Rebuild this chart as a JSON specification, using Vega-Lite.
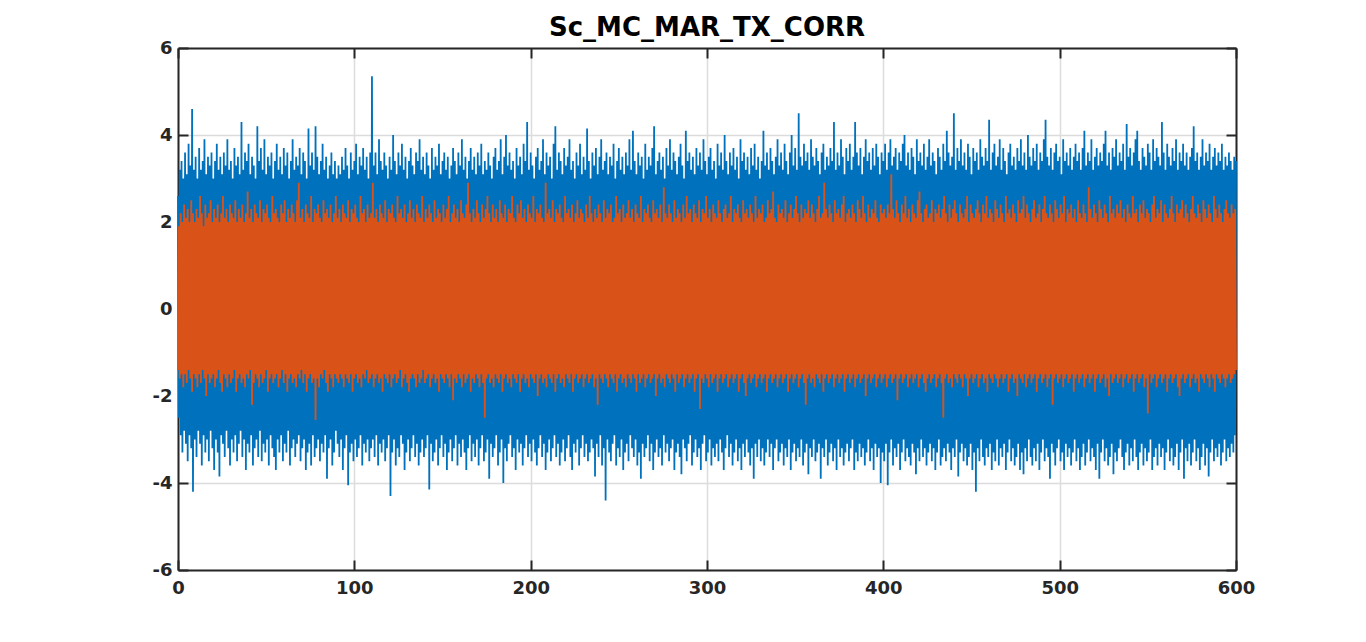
{
"$schema":"https://vega.github.io/schema/vega-lite/v6.json",
"width":1058,"height":522,
"autosize":"none",
"padding":{"left":178,"top":48,"right":130,"bottom":72},
"background":"white",
"title":{"text":"Sc_MC_MAR_TX_CORR","font":"DejaVu Sans","fontSize":26,"fontWeight":"bold","color":"#000000","anchor":"middle","offset":-2},
"config":{
 "view":{"stroke":null},
 "axis":{"domainColor":"#262626","domainWidth":2,"tickColor":"#262626","tickWidth":2,"tickSize":-10,"labelPadding":16,"labelFont":"DejaVu Sans","labelFontWeight":"bold","labelFontSize":18,"labelColor":"#262626","gridColor":"#dcdcdc","gridWidth":1.5,"labelFlush":false,"labelOverlap":false,"labelExpr":"'' + datum.value"}
},
"data":{"values":[
{"x":0,"b":2.6,"o":-1.4},{"x":0.5,"b":-2.5,"o":1.9},{"x":1,"b":3.2,"o":-1.6},{"x":1.5,"b":-2.9,"o":2.2},{"x":2,"b":3.4,"o":-1.5},{"x":2.5,"b":-3.3,"o":2.0},{"x":3,"b":3.0,"o":-1.8},{"x":3.5,"b":-2.8,"o":2.4},{"x":4,"b":3.6,"o":-1.5},{"x":4.5,"b":-3.1,"o":2.1},
{"x":5,"b":3.1,"o":-1.7},{"x":5.5,"b":-3.5,"o":2.3},{"x":6,"b":3.8,"o":-1.4},{"x":6.5,"b":-2.9,"o":2.0},{"x":7,"b":3.3,"o":-1.6},{"x":7.5,"b":-3.2,"o":2.5},{"x":8,"b":4.6,"o":-1.9},{"x":8.5,"b":-4.2,"o":2.2},{"x":9,"b":3.2,"o":-1.5},{"x":9.5,"b":-3.0,"o":2.0},
{"x":10,"b":3.5,"o":-1.6},{"x":10.5,"b":-3.4,"o":2.3},{"x":11,"b":3.0,"o":-1.8},{"x":11.5,"b":-2.8,"o":2.1},{"x":12,"b":3.7,"o":-1.5},{"x":12.5,"b":-3.1,"o":2.6},{"x":13,"b":3.2,"o":-1.7},{"x":13.5,"b":-3.6,"o":2.2},{"x":14,"b":3.4,"o":-1.4},{"x":14.5,"b":-2.9,"o":1.9},
{"x":15,"b":3.9,"o":-1.6},{"x":15.5,"b":-3.3,"o":2.4},{"x":16,"b":3.1,"o":-2.0},{"x":16.5,"b":-3.0,"o":2.1},{"x":17,"b":3.5,"o":-1.5},{"x":17.5,"b":-3.5,"o":2.2},{"x":18,"b":3.3,"o":-1.7},{"x":18.5,"b":-2.8,"o":2.5},{"x":19,"b":3.6,"o":-1.6},{"x":19.5,"b":-3.2,"o":2.0},
{"x":20,"b":3.0,"o":-1.5},{"x":20.5,"b":-3.7,"o":2.3},{"x":21,"b":3.4,"o":-1.8},{"x":21.5,"b":-3.0,"o":2.1},{"x":22,"b":3.8,"o":-1.6},{"x":22.5,"b":-3.3,"o":2.4},{"x":23,"b":3.2,"o":-1.4},{"x":23.5,"b":-3.85,"o":2.0},{"x":24,"b":3.5,"o":-1.7},{"x":24.5,"b":-2.9,"o":2.2},
{"x":25,"b":3.1,"o":-1.9},{"x":25.5,"b":-3.1,"o":2.6},{"x":26,"b":3.6,"o":-1.5},{"x":26.5,"b":-3.4,"o":2.1},{"x":27,"b":3.3,"o":-1.6},{"x":27.5,"b":-2.8,"o":2.3},{"x":28,"b":3.9,"o":-1.8},{"x":28.5,"b":-3.2,"o":2.0},{"x":29,"b":3.2,"o":-1.5},{"x":29.5,"b":-3.6,"o":2.4},
{"x":30,"b":3.4,"o":-1.7},{"x":30.5,"b":-3.0,"o":2.2},{"x":31,"b":3.0,"o":-1.6},{"x":31.5,"b":-3.3,"o":2.1},{"x":32,"b":3.7,"o":-1.4},{"x":32.5,"b":-2.9,"o":2.5},{"x":33,"b":3.3,"o":-1.9},{"x":33.5,"b":-3.5,"o":2.0},{"x":34,"b":3.5,"o":-1.6},{"x":34.5,"b":-3.1,"o":2.3},
{"x":35,"b":3.1,"o":-1.5},{"x":35.5,"b":-2.8,"o":2.1},{"x":36,"b":4.3,"o":-1.7},{"x":36.5,"b":-3.4,"o":2.4},{"x":37,"b":3.2,"o":-1.6},{"x":37.5,"b":-3.0,"o":2.0},{"x":38,"b":3.6,"o":-1.8},{"x":38.5,"b":-3.7,"o":2.2},{"x":39,"b":3.4,"o":-1.5},{"x":39.5,"b":-3.1,"o":2.7},
{"x":40,"b":3.8,"o":-1.6},{"x":40.5,"b":-3.3,"o":2.1},{"x":41,"b":3.1,"o":-1.4},{"x":41.5,"b":-2.9,"o":2.3},{"x":42,"b":3.5,"o":-2.2},{"x":42.5,"b":-3.6,"o":2.0},{"x":43,"b":3.3,"o":-1.7},{"x":43.5,"b":-3.2,"o":2.4},{"x":44,"b":3.0,"o":-1.5},{"x":44.5,"b":-3.0,"o":2.2},
{"x":45,"b":4.2,"o":-1.6},{"x":45.5,"b":-3.4,"o":2.1},{"x":46,"b":3.4,"o":-1.8},{"x":46.5,"b":-2.8,"o":2.5},{"x":47,"b":3.7,"o":-1.5},{"x":47.5,"b":-3.5,"o":2.0},{"x":48,"b":3.2,"o":-1.7},{"x":48.5,"b":-3.1,"o":2.3},{"x":49,"b":3.9,"o":-1.6},{"x":49.5,"b":-3.3,"o":2.2},
{"x":50,"b":3.1,"o":-1.4},{"x":50.5,"b":-3.0,"o":2.4},{"x":51,"b":3.5,"o":-1.9},{"x":51.5,"b":-3.6,"o":2.1},{"x":52,"b":3.3,"o":-1.6},{"x":52.5,"b":-2.9,"o":2.0},{"x":53,"b":3.6,"o":-1.5},{"x":53.5,"b":-3.2,"o":2.6},{"x":54,"b":3.0,"o":-1.7},{"x":54.5,"b":-3.4,"o":2.2},
{"x":55,"b":3.4,"o":-1.6},{"x":55.5,"b":-3.7,"o":2.3},{"x":56,"b":3.8,"o":-1.5},{"x":56.5,"b":-3.0,"o":2.1},{"x":57,"b":3.2,"o":-1.8},{"x":57.5,"b":-3.3,"o":2.0},{"x":58,"b":3.5,"o":-1.6},{"x":58.5,"b":-2.9,"o":2.4},{"x":59,"b":3.1,"o":-1.4},{"x":59.5,"b":-3.5,"o":2.2},
{"x":60,"b":3.7,"o":-1.7},{"x":60.5,"b":-3.1,"o":2.5},{"x":61,"b":3.3,"o":-1.5},{"x":61.5,"b":-3.3,"o":2.0},{"x":62,"b":3.6,"o":-1.9},{"x":62.5,"b":-2.8,"o":2.3},{"x":63,"b":3.0,"o":-1.6},{"x":63.5,"b":-3.6,"o":2.1},{"x":64,"b":3.4,"o":-1.5},{"x":64.5,"b":-3.2,"o":2.4},
{"x":65,"b":3.9,"o":-1.7},{"x":65.5,"b":-3.0,"o":2.2},{"x":66,"b":3.2,"o":-1.6},{"x":66.5,"b":-3.4,"o":2.0},{"x":67,"b":3.5,"o":-1.8},{"x":67.5,"b":-3.1,"o":2.5},{"x":68,"b":3.3,"o":-1.5},{"x":68.5,"b":-2.9,"o":2.9},{"x":69,"b":3.7,"o":-1.6},{"x":69.5,"b":-3.5,"o":2.1},
{"x":70,"b":3.1,"o":-1.4},{"x":70.5,"b":-3.2,"o":2.3},{"x":71,"b":3.6,"o":-1.7},{"x":71.5,"b":-3.0,"o":2.0},{"x":72,"b":3.4,"o":-1.5},{"x":72.5,"b":-3.7,"o":2.4},{"x":73,"b":3.0,"o":-1.9},{"x":73.5,"b":-3.3,"o":2.2},{"x":74,"b":4.15,"o":-1.6},{"x":74.5,"b":-3.1,"o":2.1},
{"x":75,"b":3.3,"o":-1.5},{"x":75.5,"b":-3.6,"o":2.6},{"x":76,"b":3.6,"o":-1.7},{"x":76.5,"b":-2.9,"o":2.0},{"x":77,"b":3.2,"o":-1.6},{"x":77.5,"b":-3.4,"o":2.3},{"x":78,"b":4.2,"o":-2.55},{"x":78.5,"b":-3.2,"o":2.2},{"x":79,"b":3.5,"o":-1.6},{"x":79.5,"b":-3.0,"o":2.4},
{"x":80,"b":3.1,"o":-1.8},{"x":80.5,"b":-3.5,"o":2.1},{"x":81,"b":3.4,"o":-1.5},{"x":81.5,"b":-3.1,"o":2.0},{"x":82,"b":3.8,"o":-1.6},{"x":82.5,"b":-3.3,"o":2.5},{"x":83,"b":3.2,"o":-1.4},{"x":83.5,"b":-2.9,"o":2.2},{"x":84,"b":3.5,"o":-1.7},{"x":84.5,"b":-3.9,"o":2.3},
{"x":85,"b":3.0,"o":-1.9},{"x":85.5,"b":-3.2,"o":2.1},{"x":86,"b":3.3,"o":-1.5},{"x":86.5,"b":-3.0,"o":2.4},{"x":87,"b":3.6,"o":-1.6},{"x":87.5,"b":-3.6,"o":2.0},{"x":88,"b":3.1,"o":-1.8},{"x":88.5,"b":-3.3,"o":2.2},{"x":89,"b":3.4,"o":-1.5},{"x":89.5,"b":-2.8,"o":2.6},
{"x":90,"b":3.0,"o":-1.6},{"x":90.5,"b":-3.1,"o":2.1},{"x":91,"b":3.3,"o":-1.7},{"x":91.5,"b":-3.4,"o":2.3},{"x":92,"b":3.1,"o":-1.5},{"x":92.5,"b":-3.0,"o":2.0},{"x":93,"b":3.5,"o":-1.6},{"x":93.5,"b":-3.7,"o":2.4},{"x":94,"b":3.2,"o":-1.8},{"x":94.5,"b":-3.2,"o":2.2},
{"x":95,"b":3.7,"o":-1.5},{"x":95.5,"b":-2.9,"o":2.1},{"x":96,"b":3.3,"o":-1.6},{"x":96.5,"b":-4.05,"o":2.5},{"x":97,"b":3.0,"o":-1.7},{"x":97.5,"b":-3.3,"o":2.0},{"x":98,"b":3.6,"o":-1.5},{"x":98.5,"b":-3.1,"o":2.3},{"x":99,"b":3.2,"o":-1.9},{"x":99.5,"b":-3.5,"o":2.2},
{"x":100,"b":3.4,"o":-1.6},{"x":100.5,"b":-3.0,"o":2.4},{"x":101,"b":3.8,"o":-1.5},{"x":101.5,"b":-3.4,"o":2.1},{"x":102,"b":3.1,"o":-1.7},{"x":102.5,"b":-3.2,"o":2.0},{"x":103,"b":3.5,"o":-1.6},{"x":103.5,"b":-2.9,"o":2.6},{"x":104,"b":3.3,"o":-1.8},{"x":104.5,"b":-3.6,"o":2.2},
{"x":105,"b":3.7,"o":-1.5},{"x":105.5,"b":-3.1,"o":2.3},{"x":106,"b":3.2,"o":-1.6},{"x":106.5,"b":-3.3,"o":2.0},{"x":107,"b":3.5,"o":-1.4},{"x":107.5,"b":-3.0,"o":2.4},{"x":108,"b":3.0,"o":-1.7},{"x":108.5,"b":-3.5,"o":2.1},{"x":109,"b":3.6,"o":-1.6},{"x":109.5,"b":-3.2,"o":2.2},
{"x":110,"b":5.35,"o":-1.5},{"x":110.5,"b":-3.0,"o":2.9},{"x":111,"b":3.3,"o":-1.8},{"x":111.5,"b":-3.4,"o":2.1},{"x":112,"b":3.6,"o":-1.6},{"x":112.5,"b":-2.9,"o":2.3},{"x":113,"b":3.1,"o":-1.5},{"x":113.5,"b":-3.6,"o":2.0},{"x":114,"b":3.9,"o":-1.7},{"x":114.5,"b":-3.1,"o":2.4},
{"x":115,"b":3.4,"o":-1.6},{"x":115.5,"b":-3.3,"o":2.2},{"x":116,"b":3.2,"o":-1.9},{"x":116.5,"b":-3.0,"o":2.1},{"x":117,"b":3.6,"o":-1.5},{"x":117.5,"b":-3.5,"o":2.5},{"x":118,"b":3.3,"o":-1.6},{"x":118.5,"b":-3.2,"o":2.0},{"x":119,"b":3.0,"o":-1.7},{"x":119.5,"b":-2.9,"o":2.3},
{"x":120,"b":3.5,"o":-1.5},{"x":120.5,"b":-4.3,"o":2.2},{"x":121,"b":3.2,"o":-1.8},{"x":121.5,"b":-3.3,"o":2.4},{"x":122,"b":4.0,"o":-1.6},{"x":122.5,"b":-3.0,"o":2.1},{"x":123,"b":3.4,"o":-1.5},{"x":123.5,"b":-3.6,"o":2.0},{"x":124,"b":3.1,"o":-1.7},{"x":124.5,"b":-3.2,"o":2.6},
{"x":125,"b":3.6,"o":-1.6},{"x":125.5,"b":-3.4,"o":2.2},{"x":126,"b":3.3,"o":-1.4},{"x":126.5,"b":-2.9,"o":2.3},{"x":127,"b":3.8,"o":-1.8},{"x":127.5,"b":-3.1,"o":2.1},{"x":128,"b":3.2,"o":-1.6},{"x":128.5,"b":-3.7,"o":2.4},{"x":129,"b":3.5,"o":-1.5},{"x":129.5,"b":-3.3,"o":2.0},
{"x":130,"b":3.0,"o":-1.7},{"x":130.5,"b":-3.0,"o":2.2},{"x":131,"b":3.4,"o":-1.9},{"x":131.5,"b":-3.5,"o":2.5},{"x":132,"b":3.7,"o":-1.6},{"x":132.5,"b":-3.2,"o":2.1},{"x":133,"b":3.3,"o":-1.5},{"x":133.5,"b":-2.9,"o":2.3},{"x":134,"b":3.1,"o":-1.6},{"x":134.5,"b":-3.4,"o":2.0},
{"x":135,"b":3.6,"o":-1.8},{"x":135.5,"b":-3.1,"o":2.4},{"x":136,"b":3.4,"o":-1.5},{"x":136.5,"b":-3.6,"o":2.2},{"x":137,"b":3.9,"o":-1.7},{"x":137.5,"b":-3.3,"o":2.1},{"x":138,"b":3.2,"o":-1.6},{"x":138.5,"b":-3.0,"o":2.6},{"x":139,"b":3.5,"o":-1.4},{"x":139.5,"b":-3.4,"o":2.0},
{"x":140,"b":3.1,"o":-1.7},{"x":140.5,"b":-3.2,"o":2.3},{"x":141,"b":3.6,"o":-1.6},{"x":141.5,"b":-2.9,"o":2.1},{"x":142,"b":3.3,"o":-1.5},{"x":142.5,"b":-4.15,"o":2.4},{"x":143,"b":3.0,"o":-1.8},{"x":143.5,"b":-3.1,"o":2.2},{"x":144,"b":3.7,"o":-1.6},{"x":144.5,"b":-3.5,"o":2.0},
{"x":145,"b":3.2,"o":-1.5},{"x":145.5,"b":-3.3,"o":2.5},{"x":146,"b":3.5,"o":-1.7},{"x":146.5,"b":-3.0,"o":2.1},{"x":147,"b":3.3,"o":-1.6},{"x":147.5,"b":-3.6,"o":2.3},{"x":148,"b":3.8,"o":-1.9},{"x":148.5,"b":-3.2,"o":2.2},{"x":149,"b":3.1,"o":-1.5},{"x":149.5,"b":-2.9,"o":2.0},
{"x":150,"b":3.4,"o":-1.6},{"x":150.5,"b":-3.4,"o":2.4},{"x":151,"b":3.6,"o":-1.7},{"x":151.5,"b":-3.1,"o":2.1},{"x":152,"b":3.2,"o":-1.5},{"x":152.5,"b":-3.7,"o":2.3},{"x":153,"b":3.5,"o":-1.6},{"x":153.5,"b":-3.3,"o":2.6},{"x":154,"b":3.0,"o":-1.8},{"x":154.5,"b":-3.0,"o":2.0},
{"x":155,"b":3.3,"o":-1.5},{"x":155.5,"b":-3.5,"o":2.2},{"x":156,"b":3.7,"o":-2.1},{"x":156.5,"b":-3.2,"o":2.4},{"x":157,"b":3.4,"o":-1.6},{"x":157.5,"b":-2.9,"o":2.1},{"x":158,"b":3.1,"o":-1.7},{"x":158.5,"b":-3.6,"o":2.3},{"x":159,"b":3.6,"o":-1.5},{"x":159.5,"b":-3.1,"o":2.0},
{"x":160,"b":3.3,"o":-1.6},{"x":160.5,"b":-3.4,"o":2.5},{"x":161,"b":3.9,"o":-1.8},{"x":161.5,"b":-3.0,"o":2.2},{"x":162,"b":3.2,"o":-1.5},{"x":162.5,"b":-3.3,"o":2.1},{"x":163,"b":3.5,"o":-1.7},{"x":163.5,"b":-3.7,"o":2.4},{"x":164,"b":3.0,"o":-1.6},{"x":164.5,"b":-3.2,"o":2.9},
{"x":165,"b":3.4,"o":-1.5},{"x":165.5,"b":-2.9,"o":2.2},{"x":166,"b":3.7,"o":-1.9},{"x":166.5,"b":-3.5,"o":2.0},{"x":167,"b":3.2,"o":-1.6},{"x":167.5,"b":-3.1,"o":2.3},{"x":168,"b":3.5,"o":-1.7},{"x":168.5,"b":-3.4,"o":2.1},{"x":169,"b":3.1,"o":-1.5},{"x":169.5,"b":-3.0,"o":2.5},
{"x":170,"b":3.6,"o":-1.6},{"x":170.5,"b":-3.6,"o":2.2},{"x":171,"b":3.3,"o":-1.8},{"x":171.5,"b":-3.2,"o":2.0},{"x":172,"b":3.8,"o":-1.5},{"x":172.5,"b":-2.9,"o":2.4},{"x":173,"b":3.1,"o":-1.7},{"x":173.5,"b":-3.5,"o":2.1},{"x":174,"b":3.4,"o":-2.5},{"x":174.5,"b":-3.3,"o":2.3},
{"x":175,"b":3.2,"o":-1.6},{"x":175.5,"b":-3.0,"o":2.6},{"x":176,"b":3.6,"o":-1.5},{"x":176.5,"b":-3.9,"o":2.2},{"x":177,"b":3.3,"o":-1.7},{"x":177.5,"b":-3.1,"o":2.0},{"x":178,"b":3.0,"o":-1.6},{"x":178.5,"b":-3.4,"o":2.4},{"x":179,"b":3.5,"o":-1.8},{"x":179.5,"b":-3.2,"o":2.1},
{"x":180,"b":3.7,"o":-1.5},{"x":180.5,"b":-2.9,"o":2.3},{"x":181,"b":3.2,"o":-1.6},{"x":181.5,"b":-3.6,"o":2.0},{"x":182,"b":3.4,"o":-1.7},{"x":182.5,"b":-3.3,"o":2.5},{"x":183,"b":3.9,"o":-1.5},{"x":183.5,"b":-3.0,"o":2.2},{"x":184,"b":3.1,"o":-1.9},{"x":184.5,"b":-4.0,"o":2.1},
{"x":185,"b":3.5,"o":-1.6},{"x":185.5,"b":-3.2,"o":2.4},{"x":186,"b":4.0,"o":-1.5},{"x":186.5,"b":-3.5,"o":2.0},{"x":187,"b":3.3,"o":-1.7},{"x":187.5,"b":-3.1,"o":2.3},{"x":188,"b":3.6,"o":-1.6},{"x":188.5,"b":-2.9,"o":2.2},{"x":189,"b":3.2,"o":-1.8},{"x":189.5,"b":-3.4,"o":2.6},
{"x":190,"b":3.4,"o":-1.5},{"x":190.5,"b":-3.2,"o":2.1},{"x":191,"b":3.0,"o":-1.6},{"x":191.5,"b":-3.7,"o":2.0},{"x":192,"b":3.7,"o":-1.7},{"x":192.5,"b":-3.0,"o":2.4},{"x":193,"b":3.3,"o":-1.5},{"x":193.5,"b":-3.3,"o":2.2},{"x":194,"b":3.5,"o":-1.9},{"x":194.5,"b":-3.1,"o":2.5},
{"x":195,"b":3.1,"o":-1.6},{"x":195.5,"b":-3.6,"o":2.1},{"x":196,"b":3.8,"o":-1.5},{"x":196.5,"b":-3.2,"o":2.3},{"x":197,"b":3.4,"o":-1.7},{"x":197.5,"b":-2.9,"o":2.0},{"x":198,"b":4.3,"o":-1.6},{"x":198.5,"b":-3.4,"o":2.4},{"x":199,"b":3.2,"o":-1.8},{"x":199.5,"b":-3.1,"o":2.2},
{"x":200,"b":3.6,"o":-1.5},{"x":200.5,"b":-3.5,"o":2.1},{"x":201,"b":3.3,"o":-1.6},{"x":201.5,"b":-3.0,"o":2.6},{"x":202,"b":3.0,"o":-1.7},{"x":202.5,"b":-3.3,"o":2.0},{"x":203,"b":3.5,"o":-1.5},{"x":203.5,"b":-3.6,"o":2.3},{"x":204,"b":3.7,"o":-2.0},{"x":204.5,"b":-3.2,"o":2.2},
{"x":205,"b":3.2,"o":-1.6},{"x":205.5,"b":-2.9,"o":2.4},{"x":206,"b":3.4,"o":-1.5},{"x":206.5,"b":-3.4,"o":2.1},{"x":207,"b":3.9,"o":-1.7},{"x":207.5,"b":-3.1,"o":2.0},{"x":208,"b":3.1,"o":-1.6},{"x":208.5,"b":-3.7,"o":2.9},{"x":209,"b":3.6,"o":-1.8},{"x":209.5,"b":-3.3,"o":2.2},
{"x":210,"b":3.3,"o":-1.5},{"x":210.5,"b":-3.0,"o":2.3},{"x":211,"b":3.5,"o":-1.6},{"x":211.5,"b":-3.5,"o":2.1},{"x":212,"b":3.0,"o":-1.7},{"x":212.5,"b":-3.2,"o":2.5},{"x":213,"b":3.8,"o":-1.5},{"x":213.5,"b":-2.9,"o":2.0},{"x":214,"b":4.2,"o":-1.9},{"x":214.5,"b":-3.4,"o":2.3},
{"x":215,"b":3.2,"o":-1.6},{"x":215.5,"b":-3.1,"o":2.2},{"x":216,"b":3.6,"o":-1.5},{"x":216.5,"b":-3.6,"o":2.4},{"x":217,"b":3.4,"o":-1.7},{"x":217.5,"b":-3.3,"o":2.1},{"x":218,"b":3.1,"o":-1.6},{"x":218.5,"b":-3.0,"o":2.0},{"x":219,"b":3.7,"o":-1.8},{"x":219.5,"b":-3.5,"o":2.6},
{"x":220,"b":3.3,"o":-1.5},{"x":220.5,"b":-3.2,"o":2.2},{"x":221,"b":3.5,"o":-1.6},{"x":221.5,"b":-2.9,"o":2.3},{"x":222,"b":3.9,"o":-1.7},{"x":222.5,"b":-3.4,"o":2.1},{"x":223,"b":3.2,"o":-1.5},{"x":223.5,"b":-3.7,"o":2.4},{"x":224,"b":3.4,"o":-1.9},{"x":224.5,"b":-3.1,"o":2.0},
{"x":225,"b":3.0,"o":-1.6},{"x":225.5,"b":-3.3,"o":2.2},{"x":226,"b":3.6,"o":-1.5},{"x":226.5,"b":-3.0,"o":2.5},{"x":227,"b":3.3,"o":-1.7},{"x":227.5,"b":-3.6,"o":2.1},{"x":228,"b":3.8,"o":-1.6},{"x":228.5,"b":-3.2,"o":2.3},{"x":229,"b":3.1,"o":-1.5},{"x":229.5,"b":-2.9,"o":2.2},
{"x":230,"b":3.5,"o":-1.8},{"x":230.5,"b":-3.4,"o":2.0},{"x":231,"b":3.2,"o":-1.6},{"x":231.5,"b":-3.1,"o":2.4},{"x":232,"b":4.15,"o":-1.5},{"x":232.5,"b":-3.5,"o":2.1},{"x":233,"b":3.4,"o":-1.7},{"x":233.5,"b":-3.3,"o":2.6},{"x":234,"b":3.0,"o":-1.6},{"x":234.5,"b":-3.0,"o":2.2},
{"x":235,"b":3.6,"o":-1.5},{"x":235.5,"b":-3.2,"o":2.0},{"x":236,"b":3.3,"o":-1.8},{"x":236.5,"b":-3.85,"o":2.3},{"x":237,"b":3.7,"o":-1.6},{"x":237.5,"b":-3.1,"o":2.1},{"x":238,"b":3.1,"o":-2.2},{"x":238.5,"b":-3.4,"o":2.4},{"x":239,"b":3.5,"o":-1.5},{"x":239.5,"b":-2.9,"o":2.2},
{"x":240,"b":3.9,"o":-1.6},{"x":240.5,"b":-3.6,"o":2.0},{"x":241,"b":3.2,"o":-1.7},{"x":241.5,"b":-3.2,"o":2.5},{"x":242,"b":3.4,"o":-1.5},{"x":242.5,"b":-4.4,"o":2.1},{"x":243,"b":3.6,"o":-1.6},{"x":243.5,"b":-3.0,"o":2.3},{"x":244,"b":3.1,"o":-1.8},{"x":244.5,"b":-3.3,"o":2.2},
{"x":245,"b":3.5,"o":-1.5},{"x":245.5,"b":-3.5,"o":2.4},{"x":246,"b":3.3,"o":-1.6},{"x":246.5,"b":-3.1,"o":2.0},{"x":247,"b":3.8,"o":-1.7},{"x":247.5,"b":-2.9,"o":2.1},{"x":248,"b":3.0,"o":-1.5},{"x":248.5,"b":-3.6,"o":2.6},{"x":249,"b":3.4,"o":-1.9},{"x":249.5,"b":-3.2,"o":2.2},
{"x":250,"b":3.7,"o":-1.6},{"x":250.5,"b":-3.4,"o":2.3},{"x":251,"b":3.2,"o":-1.5},{"x":251.5,"b":-3.0,"o":2.0},{"x":252,"b":3.5,"o":-1.7},{"x":252.5,"b":-3.7,"o":2.4},{"x":253,"b":3.1,"o":-1.6},{"x":253.5,"b":-3.3,"o":2.1},{"x":254,"b":3.6,"o":-1.8},{"x":254.5,"b":-3.1,"o":2.2},
{"x":255,"b":3.3,"o":-1.5},{"x":255.5,"b":-3.5,"o":2.5},{"x":256,"b":3.9,"o":-1.6},{"x":256.5,"b":-2.9,"o":2.1},{"x":257,"b":3.2,"o":-1.7},{"x":257.5,"b":-3.2,"o":2.3},{"x":258,"b":4.1,"o":-1.5},{"x":258.5,"b":-3.4,"o":2.0},{"x":259,"b":3.4,"o":-1.6},{"x":259.5,"b":-3.0,"o":2.4},
{"x":260,"b":3.1,"o":-1.9},{"x":260.5,"b":-3.6,"o":2.2},{"x":261,"b":3.6,"o":-1.5},{"x":261.5,"b":-3.3,"o":2.1},{"x":262,"b":3.3,"o":-1.7},{"x":262.5,"b":-3.9,"o":2.6},{"x":263,"b":3.5,"o":-1.6},{"x":263.5,"b":-3.1,"o":2.0},{"x":264,"b":3.0,"o":-1.5},{"x":264.5,"b":-3.4,"o":2.3},
{"x":265,"b":3.8,"o":-1.8},{"x":265.5,"b":-3.2,"o":2.2},{"x":266,"b":3.2,"o":-1.6},{"x":266.5,"b":-2.9,"o":2.4},{"x":267,"b":3.5,"o":-1.5},{"x":267.5,"b":-3.5,"o":2.1},{"x":268,"b":3.3,"o":-1.7},{"x":268.5,"b":-3.1,"o":2.0},{"x":269,"b":3.7,"o":-1.6},{"x":269.5,"b":-3.7,"o":2.5},
{"x":270,"b":4.2,"o":-1.5},{"x":270.5,"b":-3.3,"o":2.2},{"x":271,"b":3.1,"o":-2.0},{"x":271.5,"b":-3.0,"o":2.3},{"x":272,"b":3.4,"o":-1.6},{"x":272.5,"b":-3.4,"o":2.1},{"x":273,"b":3.6,"o":-1.5},{"x":273.5,"b":-3.2,"o":2.4},{"x":274,"b":3.2,"o":-1.7},{"x":274.5,"b":-3.6,"o":2.0},
{"x":275,"b":3.5,"o":-1.6},{"x":275.5,"b":-2.9,"o":2.8},{"x":276,"b":3.0,"o":-1.8},{"x":276.5,"b":-3.3,"o":2.2},{"x":277,"b":3.7,"o":-1.5},{"x":277.5,"b":-3.1,"o":2.1},{"x":278,"b":3.3,"o":-1.6},{"x":278.5,"b":-3.5,"o":2.4},{"x":279,"b":3.9,"o":-1.7},{"x":279.5,"b":-3.2,"o":2.2},
{"x":280,"b":3.2,"o":-1.5},{"x":280.5,"b":-3.0,"o":2.0},{"x":281,"b":3.6,"o":-1.6},{"x":281.5,"b":-3.7,"o":2.5},{"x":282,"b":3.4,"o":-1.9},{"x":282.5,"b":-3.3,"o":2.1},{"x":283,"b":3.1,"o":-1.5},{"x":283.5,"b":-3.1,"o":2.3},{"x":284,"b":3.5,"o":-1.7},{"x":284.5,"b":-3.4,"o":2.2},
{"x":285,"b":3.8,"o":-1.6},{"x":285.5,"b":-3.8,"o":2.0},{"x":286,"b":3.3,"o":-1.5},{"x":286.5,"b":-3.0,"o":2.4},{"x":287,"b":3.0,"o":-1.8},{"x":287.5,"b":-3.2,"o":2.1},{"x":288,"b":4.1,"o":-1.6},{"x":288.5,"b":-3.5,"o":2.6},{"x":289,"b":3.4,"o":-1.5},{"x":289.5,"b":-3.1,"o":2.2},
{"x":290,"b":3.6,"o":-1.7},{"x":290.5,"b":-2.9,"o":2.3},{"x":291,"b":3.2,"o":-1.6},{"x":291.5,"b":-3.6,"o":2.0},{"x":292,"b":3.5,"o":-1.5},{"x":292.5,"b":-3.3,"o":2.4},{"x":293,"b":3.1,"o":-1.9},{"x":293.5,"b":-3.0,"o":2.2},{"x":294,"b":3.7,"o":-1.6},{"x":294.5,"b":-3.4,"o":2.1},
{"x":295,"b":3.3,"o":-1.5},{"x":295.5,"b":-3.2,"o":2.5},{"x":296,"b":3.6,"o":-2.3},{"x":296.5,"b":-3.7,"o":2.0},{"x":297,"b":3.2,"o":-1.6},{"x":297.5,"b":-3.1,"o":2.3},{"x":298,"b":3.9,"o":-1.7},{"x":298.5,"b":-2.9,"o":2.2},{"x":299,"b":3.4,"o":-1.5},{"x":299.5,"b":-3.5,"o":2.6},
{"x":300,"b":3.1,"o":-1.6},{"x":300.5,"b":-3.3,"o":2.1},{"x":301,"b":3.5,"o":-1.8},{"x":301.5,"b":-3.0,"o":2.3},{"x":302,"b":3.7,"o":-1.5},{"x":302.5,"b":-3.6,"o":2.0},{"x":303,"b":3.2,"o":-1.7},{"x":303.5,"b":-3.2,"o":2.4},{"x":304,"b":3.4,"o":-1.6},{"x":304.5,"b":-3.4,"o":2.2},
{"x":305,"b":3.0,"o":-1.5},{"x":305.5,"b":-3.1,"o":2.1},{"x":306,"b":3.8,"o":-1.9},{"x":306.5,"b":-3.5,"o":2.5},{"x":307,"b":3.3,"o":-1.6},{"x":307.5,"b":-3.0,"o":2.2},{"x":308,"b":3.6,"o":-1.5},{"x":308.5,"b":-3.3,"o":2.0},{"x":309,"b":3.2,"o":-1.7},{"x":309.5,"b":-3.7,"o":2.3},
{"x":310,"b":4.0,"o":-1.6},{"x":310.5,"b":-3.2,"o":2.4},{"x":311,"b":3.4,"o":-1.5},{"x":311.5,"b":-2.9,"o":2.1},{"x":312,"b":3.1,"o":-1.8},{"x":312.5,"b":-3.4,"o":2.2},{"x":313,"b":3.6,"o":-1.6},{"x":313.5,"b":-3.1,"o":2.6},{"x":314,"b":3.3,"o":-1.5},{"x":314.5,"b":-3.6,"o":2.0},
{"x":315,"b":3.7,"o":-1.7},{"x":315.5,"b":-3.3,"o":2.3},{"x":316,"b":3.2,"o":-1.6},{"x":316.5,"b":-3.0,"o":2.2},{"x":317,"b":3.5,"o":-1.5},{"x":317.5,"b":-3.5,"o":2.4},{"x":318,"b":3.0,"o":-1.9},{"x":318.5,"b":-3.2,"o":2.1},{"x":319,"b":3.9,"o":-1.6},{"x":319.5,"b":-3.7,"o":2.0},
{"x":320,"b":3.4,"o":-1.5},{"x":320.5,"b":-3.1,"o":2.5},{"x":321,"b":3.6,"o":-1.7},{"x":321.5,"b":-3.4,"o":2.2},{"x":322,"b":3.2,"o":-2.0},{"x":322.5,"b":-3.0,"o":2.3},{"x":323,"b":3.5,"o":-1.6},{"x":323.5,"b":-3.3,"o":2.1},{"x":324,"b":3.1,"o":-1.5},{"x":324.5,"b":-3.6,"o":2.4},
{"x":325,"b":3.7,"o":-1.7},{"x":325.5,"b":-3.2,"o":2.2},{"x":326,"b":3.3,"o":-1.6},{"x":326.5,"b":-3.9,"o":2.0},{"x":327,"b":3.8,"o":-1.5},{"x":327.5,"b":-3.1,"o":2.6},{"x":328,"b":3.2,"o":-1.8},{"x":328.5,"b":-3.4,"o":2.1},{"x":329,"b":3.5,"o":-1.6},{"x":329.5,"b":-3.0,"o":2.3},
{"x":330,"b":3.0,"o":-1.5},{"x":330.5,"b":-3.5,"o":2.2},{"x":331,"b":3.4,"o":-1.7},{"x":331.5,"b":-3.2,"o":2.4},{"x":332,"b":4.1,"o":-1.6},{"x":332.5,"b":-3.6,"o":2.0},{"x":333,"b":3.3,"o":-1.5},{"x":333.5,"b":-3.3,"o":2.1},{"x":334,"b":3.6,"o":-1.9},{"x":334.5,"b":-3.0,"o":2.5},
{"x":335,"b":3.2,"o":-1.6},{"x":335.5,"b":-3.4,"o":2.2},{"x":336,"b":3.7,"o":-1.5},{"x":336.5,"b":-3.1,"o":2.3},{"x":337,"b":3.4,"o":-1.7},{"x":337.5,"b":-3.7,"o":2.7},{"x":338,"b":3.1,"o":-1.6},{"x":338.5,"b":-3.2,"o":2.1},{"x":339,"b":3.5,"o":-1.5},{"x":339.5,"b":-3.0,"o":2.0},
{"x":340,"b":3.9,"o":-1.8},{"x":340.5,"b":-3.5,"o":2.4},{"x":341,"b":3.3,"o":-1.6},{"x":341.5,"b":-3.3,"o":2.2},{"x":342,"b":3.6,"o":-1.5},{"x":342.5,"b":-3.1,"o":2.3},{"x":343,"b":3.2,"o":-1.7},{"x":343.5,"b":-3.6,"o":2.1},{"x":344,"b":3.8,"o":-1.6},{"x":344.5,"b":-3.2,"o":2.5},
{"x":345,"b":3.4,"o":-1.5},{"x":345.5,"b":-3.4,"o":2.0},{"x":346,"b":3.1,"o":-1.9},{"x":346.5,"b":-3.0,"o":2.2},{"x":347,"b":3.6,"o":-1.6},{"x":347.5,"b":-3.7,"o":2.4},{"x":348,"b":4.0,"o":-1.5},{"x":348.5,"b":-3.3,"o":2.1},{"x":349,"b":3.3,"o":-1.7},{"x":349.5,"b":-3.1,"o":2.3},
{"x":350,"b":3.7,"o":-1.6},{"x":350.5,"b":-3.5,"o":2.6},{"x":351,"b":3.2,"o":-1.5},{"x":351.5,"b":-3.2,"o":2.2},{"x":352,"b":4.5,"o":-1.8},{"x":352.5,"b":-3.4,"o":2.0},{"x":353,"b":3.5,"o":-1.6},{"x":353.5,"b":-3.0,"o":2.4},{"x":354,"b":3.3,"o":-1.5},{"x":354.5,"b":-3.6,"o":2.1},
{"x":355,"b":3.8,"o":-1.7},{"x":355.5,"b":-3.3,"o":2.3},{"x":356,"b":3.4,"o":-2.2},{"x":356.5,"b":-3.1,"o":2.2},{"x":357,"b":3.6,"o":-1.6},{"x":357.5,"b":-3.8,"o":2.5},{"x":358,"b":3.2,"o":-1.5},{"x":358.5,"b":-3.2,"o":2.1},{"x":359,"b":3.9,"o":-1.7},{"x":359.5,"b":-3.4,"o":2.4},
{"x":360,"b":3.5,"o":-1.6},{"x":360.5,"b":-3.0,"o":2.2},{"x":361,"b":3.3,"o":-1.8},{"x":361.5,"b":-3.5,"o":2.0},{"x":362,"b":3.7,"o":-1.5},{"x":362.5,"b":-3.3,"o":2.3},{"x":363,"b":3.4,"o":-1.6},{"x":363.5,"b":-3.1,"o":2.6},{"x":364,"b":3.1,"o":-1.7},{"x":364.5,"b":-3.9,"o":2.1},
{"x":365,"b":3.6,"o":-1.5},{"x":365.5,"b":-3.2,"o":2.2},{"x":366,"b":3.8,"o":-1.9},{"x":366.5,"b":-3.4,"o":2.9},{"x":367,"b":3.2,"o":-1.6},{"x":367.5,"b":-3.0,"o":2.3},{"x":368,"b":3.5,"o":-1.5},{"x":368.5,"b":-3.6,"o":2.1},{"x":369,"b":3.3,"o":-1.7},{"x":369.5,"b":-3.3,"o":2.4},
{"x":370,"b":3.7,"o":-1.6},{"x":370.5,"b":-3.1,"o":2.2},{"x":371,"b":3.4,"o":-1.5},{"x":371.5,"b":-3.5,"o":2.0},{"x":372,"b":4.3,"o":-1.8},{"x":372.5,"b":-3.2,"o":2.5},{"x":373,"b":3.2,"o":-1.6},{"x":373.5,"b":-3.7,"o":2.2},{"x":374,"b":3.6,"o":-1.5},{"x":374.5,"b":-3.0,"o":2.3},
{"x":375,"b":3.3,"o":-1.7},{"x":375.5,"b":-3.4,"o":2.1},{"x":376,"b":3.9,"o":-1.6},{"x":376.5,"b":-3.2,"o":2.4},{"x":377,"b":3.5,"o":-1.5},{"x":377.5,"b":-3.6,"o":2.6},{"x":378,"b":3.1,"o":-1.9},{"x":378.5,"b":-3.3,"o":2.0},{"x":379,"b":3.7,"o":-1.6},{"x":379.5,"b":-3.1,"o":2.2},
{"x":380,"b":3.4,"o":-1.5},{"x":380.5,"b":-3.5,"o":2.3},{"x":381,"b":3.8,"o":-1.7},{"x":381.5,"b":-3.2,"o":2.1},{"x":382,"b":3.2,"o":-1.6},{"x":382.5,"b":-3.0,"o":2.4},{"x":383,"b":3.5,"o":-1.5},{"x":383.5,"b":-3.7,"o":2.2},{"x":384,"b":4.3,"o":-1.8},{"x":384.5,"b":-3.3,"o":2.0},
{"x":385,"b":3.6,"o":-1.6},{"x":385.5,"b":-3.5,"o":2.5},{"x":386,"b":3.3,"o":-1.5},{"x":386.5,"b":-3.1,"o":2.3},{"x":387,"b":3.7,"o":-1.7},{"x":387.5,"b":-3.4,"o":2.1},{"x":388,"b":3.1,"o":-1.6},{"x":388.5,"b":-3.2,"o":2.6},{"x":389,"b":3.5,"o":-1.5},{"x":389.5,"b":-3.6,"o":2.2},
{"x":390,"b":3.9,"o":-2.0},{"x":390.5,"b":-3.3,"o":2.0},{"x":391,"b":3.4,"o":-1.6},{"x":391.5,"b":-3.0,"o":2.4},{"x":392,"b":3.6,"o":-1.5},{"x":392.5,"b":-3.5,"o":2.1},{"x":393,"b":3.2,"o":-1.7},{"x":393.5,"b":-3.2,"o":2.3},{"x":394,"b":3.7,"o":-1.6},{"x":394.5,"b":-3.7,"o":2.2},
{"x":395,"b":3.3,"o":-1.5},{"x":395.5,"b":-3.1,"o":2.5},{"x":396,"b":3.8,"o":-1.8},{"x":396.5,"b":-3.4,"o":2.1},{"x":397,"b":3.5,"o":-1.6},{"x":397.5,"b":-3.2,"o":2.0},{"x":398,"b":3.1,"o":-1.5},{"x":398.5,"b":-4.0,"o":2.4},{"x":399,"b":3.6,"o":-1.7},{"x":399.5,"b":-3.3,"o":2.2},
{"x":400,"b":3.4,"o":-1.6},{"x":400.5,"b":-3.5,"o":2.3},{"x":401,"b":3.8,"o":-1.5},{"x":401.5,"b":-3.1,"o":2.1},{"x":402,"b":3.2,"o":-1.8},{"x":402.5,"b":-4.05,"o":2.4},{"x":403,"b":3.6,"o":-1.6},{"x":403.5,"b":-3.3,"o":2.2},{"x":404,"b":3.9,"o":-1.5},{"x":404.5,"b":-3.0,"o":3.1},
{"x":405,"b":3.3,"o":-1.7},{"x":405.5,"b":-3.6,"o":2.3},{"x":406,"b":3.5,"o":-1.6},{"x":406.5,"b":-3.2,"o":2.1},{"x":407,"b":3.7,"o":-1.5},{"x":407.5,"b":-3.4,"o":2.5},{"x":408,"b":3.2,"o":-2.1},{"x":408.5,"b":-3.1,"o":2.2},{"x":409,"b":3.6,"o":-1.6},{"x":409.5,"b":-3.7,"o":2.0},
{"x":410,"b":3.4,"o":-1.5},{"x":410.5,"b":-3.3,"o":2.4},{"x":411,"b":3.8,"o":-1.7},{"x":411.5,"b":-3.0,"o":2.2},{"x":412,"b":4.0,"o":-1.6},{"x":412.5,"b":-3.5,"o":2.6},{"x":413,"b":3.3,"o":-1.5},{"x":413.5,"b":-3.2,"o":2.1},{"x":414,"b":3.6,"o":-1.8},{"x":414.5,"b":-3.4,"o":2.3},
{"x":415,"b":3.2,"o":-1.6},{"x":415.5,"b":-3.6,"o":2.0},{"x":416,"b":3.7,"o":-1.5},{"x":416.5,"b":-3.1,"o":2.4},{"x":417,"b":3.5,"o":-1.7},{"x":417.5,"b":-3.3,"o":2.2},{"x":418,"b":3.1,"o":-1.6},{"x":418.5,"b":-3.8,"o":2.1},{"x":419,"b":3.9,"o":-1.5},{"x":419.5,"b":-3.2,"o":2.5},
{"x":420,"b":3.4,"o":-1.8},{"x":420.5,"b":-3.5,"o":2.7},{"x":421,"b":3.6,"o":-1.6},{"x":421.5,"b":-3.0,"o":2.2},{"x":422,"b":3.3,"o":-1.5},{"x":422.5,"b":-3.4,"o":2.0},{"x":423,"b":3.8,"o":-1.7},{"x":423.5,"b":-3.2,"o":2.3},{"x":424,"b":3.2,"o":-1.9},{"x":424.5,"b":-3.6,"o":2.4},
{"x":425,"b":3.5,"o":-1.6},{"x":425.5,"b":-3.3,"o":2.1},{"x":426,"b":3.9,"o":-1.5},{"x":426.5,"b":-3.1,"o":2.2},{"x":427,"b":3.3,"o":-1.7},{"x":427.5,"b":-3.5,"o":2.5},{"x":428,"b":3.6,"o":-1.6},{"x":428.5,"b":-3.2,"o":2.0},{"x":429,"b":3.4,"o":-1.5},{"x":429.5,"b":-3.7,"o":2.3},
{"x":430,"b":3.1,"o":-1.8},{"x":430.5,"b":-3.3,"o":2.2},{"x":431,"b":3.7,"o":-1.6},{"x":431.5,"b":-3.0,"o":2.4},{"x":432,"b":3.5,"o":-1.5},{"x":432.5,"b":-3.6,"o":2.1},{"x":433,"b":3.2,"o":-1.7},{"x":433.5,"b":-3.4,"o":2.3},{"x":434,"b":3.8,"o":-2.5},{"x":434.5,"b":-3.2,"o":2.6},
{"x":435,"b":3.4,"o":-1.6},{"x":435.5,"b":-3.5,"o":2.2},{"x":436,"b":4.1,"o":-1.5},{"x":436.5,"b":-3.1,"o":2.0},{"x":437,"b":3.6,"o":-1.7},{"x":437.5,"b":-3.3,"o":2.4},{"x":438,"b":3.3,"o":-1.6},{"x":438.5,"b":-3.7,"o":2.1},{"x":439,"b":3.5,"o":-1.8},{"x":439.5,"b":-3.2,"o":2.3},
{"x":440,"b":4.5,"o":-1.5},{"x":440.5,"b":-3.4,"o":2.5},{"x":441,"b":3.2,"o":-1.6},{"x":441.5,"b":-3.0,"o":2.2},{"x":442,"b":3.7,"o":-1.7},{"x":442.5,"b":-3.85,"o":2.0},{"x":443,"b":3.4,"o":-1.5},{"x":443.5,"b":-3.3,"o":2.4},{"x":444,"b":3.9,"o":-1.6},{"x":444.5,"b":-3.1,"o":2.2},
{"x":445,"b":3.3,"o":-1.8},{"x":445.5,"b":-3.5,"o":2.1},{"x":446,"b":3.6,"o":-1.5},{"x":446.5,"b":-3.2,"o":2.3},{"x":447,"b":3.2,"o":-1.6},{"x":447.5,"b":-3.6,"o":2.6},{"x":448,"b":3.8,"o":-2.0},{"x":448.5,"b":-3.4,"o":2.0},{"x":449,"b":3.5,"o":-1.6},{"x":449.5,"b":-3.1,"o":2.4},
{"x":450,"b":3.1,"o":-1.5},{"x":450.5,"b":-3.7,"o":2.2},{"x":451,"b":3.7,"o":-1.7},{"x":451.5,"b":-3.3,"o":2.1},{"x":452,"b":3.4,"o":-1.6},{"x":452.5,"b":-4.2,"o":2.3},{"x":453,"b":3.6,"o":-1.5},{"x":453.5,"b":-3.2,"o":2.5},{"x":454,"b":3.2,"o":-1.8},{"x":454.5,"b":-3.5,"o":2.2},
{"x":455,"b":3.9,"o":-1.6},{"x":455.5,"b":-3.0,"o":2.0},{"x":456,"b":3.5,"o":-1.5},{"x":456.5,"b":-3.4,"o":2.4},{"x":457,"b":3.3,"o":-1.7},{"x":457.5,"b":-3.6,"o":2.2},{"x":458,"b":3.7,"o":-1.6},{"x":458.5,"b":-3.2,"o":2.6},{"x":459,"b":3.4,"o":-1.9},{"x":459.5,"b":-3.4,"o":2.1},
{"x":460,"b":4.35,"o":-1.5},{"x":460.5,"b":-3.1,"o":2.3},{"x":461,"b":3.2,"o":-1.6},{"x":461.5,"b":-3.7,"o":2.2},{"x":462,"b":3.6,"o":-1.7},{"x":462.5,"b":-3.3,"o":2.0},{"x":463,"b":3.8,"o":-1.5},{"x":463.5,"b":-3.5,"o":2.5},{"x":464,"b":3.3,"o":-1.6},{"x":464.5,"b":-3.0,"o":2.3},
{"x":465,"b":3.5,"o":-1.8},{"x":465.5,"b":-3.6,"o":2.1},{"x":466,"b":3.9,"o":-1.6},{"x":466.5,"b":-3.2,"o":2.4},{"x":467,"b":3.2,"o":-1.5},{"x":467.5,"b":-3.4,"o":2.2},{"x":468,"b":3.7,"o":-1.7},{"x":468.5,"b":-3.1,"o":2.0},{"x":469,"b":3.4,"o":-1.6},{"x":469.5,"b":-3.7,"o":2.6},
{"x":470,"b":3.1,"o":-1.5},{"x":470.5,"b":-3.3,"o":2.2},{"x":471,"b":3.6,"o":-1.9},{"x":471.5,"b":-3.0,"o":2.3},{"x":472,"b":3.8,"o":-1.6},{"x":472.5,"b":-3.5,"o":2.1},{"x":473,"b":3.3,"o":-1.5},{"x":473.5,"b":-3.2,"o":2.4},{"x":474,"b":3.5,"o":-1.7},{"x":474.5,"b":-3.6,"o":2.2},
{"x":475,"b":3.2,"o":-1.6},{"x":475.5,"b":-3.4,"o":2.0},{"x":476,"b":3.7,"o":-2.0},{"x":476.5,"b":-3.1,"o":2.5},{"x":477,"b":3.4,"o":-1.5},{"x":477.5,"b":-3.7,"o":2.2},{"x":478,"b":3.9,"o":-1.6},{"x":478.5,"b":-3.3,"o":2.3},{"x":479,"b":3.3,"o":-1.7},{"x":479.5,"b":-3.8,"o":2.6},
{"x":480,"b":3.6,"o":-1.5},{"x":480.5,"b":-3.2,"o":2.1},{"x":481,"b":3.2,"o":-1.8},{"x":481.5,"b":-3.5,"o":2.4},{"x":482,"b":4.0,"o":-1.6},{"x":482.5,"b":-3.0,"o":2.2},{"x":483,"b":3.5,"o":-1.5},{"x":483.5,"b":-3.4,"o":2.0},{"x":484,"b":3.3,"o":-1.7},{"x":484.5,"b":-3.6,"o":2.3},
{"x":485,"b":3.7,"o":-1.6},{"x":485.5,"b":-3.2,"o":2.5},{"x":486,"b":3.4,"o":-1.5},{"x":486.5,"b":-3.5,"o":2.1},{"x":487,"b":3.8,"o":-1.9},{"x":487.5,"b":-3.1,"o":2.2},{"x":488,"b":3.2,"o":-1.6},{"x":488.5,"b":-3.7,"o":2.4},{"x":489,"b":3.6,"o":-1.5},{"x":489.5,"b":-3.3,"o":2.0},
{"x":490,"b":3.4,"o":-1.7},{"x":490.5,"b":-3.0,"o":2.3},{"x":491,"b":3.9,"o":-1.6},{"x":491.5,"b":-3.5,"o":2.6},{"x":492,"b":4.35,"o":-1.5},{"x":492.5,"b":-3.2,"o":2.2},{"x":493,"b":3.5,"o":-1.8},{"x":493.5,"b":-3.4,"o":2.1},{"x":494,"b":3.3,"o":-1.6},{"x":494.5,"b":-3.9,"o":2.4},
{"x":495,"b":3.7,"o":-1.5},{"x":495.5,"b":-3.1,"o":2.2},{"x":496,"b":3.2,"o":-2.2},{"x":496.5,"b":-3.3,"o":2.0},{"x":497,"b":3.6,"o":-1.6},{"x":497.5,"b":-3.6,"o":2.5},{"x":498,"b":3.8,"o":-1.5},{"x":498.5,"b":-3.2,"o":2.3},{"x":499,"b":3.4,"o":-1.7},{"x":499.5,"b":-3.0,"o":2.1},
{"x":500,"b":3.5,"o":-1.6},{"x":500.5,"b":-3.5,"o":2.4},{"x":501,"b":3.1,"o":-1.5},{"x":501.5,"b":-3.3,"o":2.2},{"x":502,"b":3.9,"o":-1.8},{"x":502.5,"b":-3.7,"o":2.6},{"x":503,"b":3.4,"o":-1.6},{"x":503.5,"b":-3.1,"o":2.0},{"x":504,"b":3.6,"o":-1.5},{"x":504.5,"b":-3.4,"o":2.3},
{"x":505,"b":3.3,"o":-1.7},{"x":505.5,"b":-3.2,"o":2.2},{"x":506,"b":3.7,"o":-1.6},{"x":506.5,"b":-3.6,"o":2.4},{"x":507,"b":3.2,"o":-1.5},{"x":507.5,"b":-3.3,"o":2.1},{"x":508,"b":3.5,"o":-1.9},{"x":508.5,"b":-3.0,"o":2.3},{"x":509,"b":3.8,"o":-1.6},{"x":509.5,"b":-3.5,"o":2.0},
{"x":510,"b":3.4,"o":-1.5},{"x":510.5,"b":-3.2,"o":2.5},{"x":511,"b":3.6,"o":-1.7},{"x":511.5,"b":-3.7,"o":2.2},{"x":512,"b":3.2,"o":-1.6},{"x":512.5,"b":-3.4,"o":2.1},{"x":513,"b":3.7,"o":-1.5},{"x":513.5,"b":-3.1,"o":2.4},{"x":514,"b":4.1,"o":-1.8},{"x":514.5,"b":-3.6,"o":2.2},
{"x":515,"b":3.3,"o":-1.6},{"x":515.5,"b":-3.3,"o":2.0},{"x":516,"b":3.6,"o":-1.5},{"x":516.5,"b":-3.0,"o":2.8},{"x":517,"b":3.4,"o":-1.7},{"x":517.5,"b":-3.5,"o":2.3},{"x":518,"b":3.9,"o":-1.6},{"x":518.5,"b":-3.2,"o":2.1},{"x":519,"b":3.2,"o":-1.5},{"x":519.5,"b":-3.4,"o":2.4},
{"x":520,"b":3.5,"o":-1.9},{"x":520.5,"b":-3.7,"o":2.2},{"x":521,"b":3.7,"o":-1.6},{"x":521.5,"b":-3.1,"o":2.0},{"x":522,"b":3.3,"o":-1.5},{"x":522.5,"b":-3.9,"o":2.5},{"x":523,"b":3.6,"o":-1.7},{"x":523.5,"b":-3.3,"o":2.3},{"x":524,"b":3.4,"o":-1.6},{"x":524.5,"b":-3.0,"o":2.1},
{"x":525,"b":3.8,"o":-1.5},{"x":525.5,"b":-3.5,"o":2.4},{"x":526,"b":4.1,"o":-1.8},{"x":526.5,"b":-3.2,"o":2.2},{"x":527,"b":3.3,"o":-1.6},{"x":527.5,"b":-3.6,"o":2.0},{"x":528,"b":3.6,"o":-2.0},{"x":528.5,"b":-3.4,"o":2.6},{"x":529,"b":3.2,"o":-1.5},{"x":529.5,"b":-3.1,"o":2.2},
{"x":530,"b":3.7,"o":-1.7},{"x":530.5,"b":-3.8,"o":2.3},{"x":531,"b":3.5,"o":-1.6},{"x":531.5,"b":-3.3,"o":2.1},{"x":532,"b":3.9,"o":-1.5},{"x":532.5,"b":-3.5,"o":2.4},{"x":533,"b":3.3,"o":-1.7},{"x":533.5,"b":-3.2,"o":2.2},{"x":534,"b":3.6,"o":-1.6},{"x":534.5,"b":-3.0,"o":2.5},
{"x":535,"b":3.4,"o":-1.5},{"x":535.5,"b":-3.4,"o":2.1},{"x":536,"b":3.8,"o":-1.8},{"x":536.5,"b":-3.7,"o":2.3},{"x":537,"b":3.2,"o":-1.6},{"x":537.5,"b":-3.3,"o":2.0},{"x":538,"b":4.25,"o":-1.5},{"x":538.5,"b":-3.1,"o":2.4},{"x":539,"b":3.5,"o":-1.7},{"x":539.5,"b":-3.6,"o":2.2},
{"x":540,"b":3.7,"o":-1.6},{"x":540.5,"b":-3.2,"o":2.1},{"x":541,"b":3.3,"o":-1.5},{"x":541.5,"b":-3.5,"o":2.6},{"x":542,"b":3.6,"o":-1.9},{"x":542.5,"b":-3.0,"o":2.2},{"x":543,"b":3.9,"o":-1.6},{"x":543.5,"b":-3.4,"o":2.3},{"x":544,"b":4.1,"o":-1.5},{"x":544.5,"b":-3.7,"o":2.0},
{"x":545,"b":3.4,"o":-1.7},{"x":545.5,"b":-3.3,"o":2.4},{"x":546,"b":3.2,"o":-1.6},{"x":546.5,"b":-3.1,"o":2.2},{"x":547,"b":3.7,"o":-1.5},{"x":547.5,"b":-3.6,"o":2.5},{"x":548,"b":3.5,"o":-1.8},{"x":548.5,"b":-3.2,"o":2.1},{"x":549,"b":3.3,"o":-1.6},{"x":549.5,"b":-3.5,"o":2.3},
{"x":550,"b":3.8,"o":-2.4},{"x":550.5,"b":-3.3,"o":2.2},{"x":551,"b":3.6,"o":-1.5},{"x":551.5,"b":-3.0,"o":2.0},{"x":552,"b":3.2,"o":-1.7},{"x":552.5,"b":-3.7,"o":2.4},{"x":553,"b":3.9,"o":-1.6},{"x":553.5,"b":-3.4,"o":2.6},{"x":554,"b":3.4,"o":-1.5},{"x":554.5,"b":-3.2,"o":2.1},
{"x":555,"b":3.7,"o":-1.8},{"x":555.5,"b":-3.6,"o":2.3},{"x":556,"b":3.5,"o":-1.6},{"x":556.5,"b":-3.1,"o":2.2},{"x":557,"b":3.3,"o":-1.5},{"x":557.5,"b":-3.4,"o":2.5},{"x":558,"b":4.3,"o":-1.7},{"x":558.5,"b":-3.2,"o":2.0},{"x":559,"b":3.6,"o":-1.6},{"x":559.5,"b":-3.7,"o":2.4},
{"x":560,"b":3.2,"o":-1.5},{"x":560.5,"b":-3.3,"o":2.2},{"x":561,"b":3.8,"o":-1.9},{"x":561.5,"b":-3.0,"o":2.1},{"x":562,"b":3.5,"o":-1.6},{"x":562.5,"b":-3.5,"o":2.3},{"x":563,"b":3.3,"o":-1.5},{"x":563.5,"b":-3.2,"o":2.6},{"x":564,"b":3.7,"o":-1.7},{"x":564.5,"b":-3.6,"o":2.2},
{"x":565,"b":3.4,"o":-1.6},{"x":565.5,"b":-3.4,"o":2.0},{"x":566,"b":3.9,"o":-1.5},{"x":566.5,"b":-3.1,"o":2.4},{"x":567,"b":3.2,"o":-1.8},{"x":567.5,"b":-3.7,"o":2.2},{"x":568,"b":3.6,"o":-2.0},{"x":568.5,"b":-3.3,"o":2.3},{"x":569,"b":3.4,"o":-1.6},{"x":569.5,"b":-3.0,"o":2.5},
{"x":570,"b":3.8,"o":-1.5},{"x":570.5,"b":-3.9,"o":2.1},{"x":571,"b":3.3,"o":-1.7},{"x":571.5,"b":-3.2,"o":2.4},{"x":572,"b":3.6,"o":-1.6},{"x":572.5,"b":-3.5,"o":2.2},{"x":573,"b":3.2,"o":-1.5},{"x":573.5,"b":-3.1,"o":2.0},{"x":574,"b":3.5,"o":-1.8},{"x":574.5,"b":-3.6,"o":2.3},
{"x":575,"b":3.7,"o":-1.6},{"x":575.5,"b":-3.3,"o":2.6},{"x":576,"b":4.2,"o":-1.5},{"x":576.5,"b":-3.0,"o":2.2},{"x":577,"b":3.4,"o":-1.7},{"x":577.5,"b":-3.5,"o":2.1},{"x":578,"b":3.6,"o":-1.6},{"x":578.5,"b":-3.2,"o":2.4},{"x":579,"b":3.2,"o":-1.9},{"x":579.5,"b":-3.7,"o":2.2},
{"x":580,"b":3.5,"o":-1.5},{"x":580.5,"b":-3.4,"o":2.0},{"x":581,"b":3.9,"o":-1.6},{"x":581.5,"b":-3.1,"o":2.5},{"x":582,"b":3.3,"o":-1.7},{"x":582.5,"b":-3.6,"o":2.3},{"x":583,"b":3.6,"o":-1.5},{"x":583.5,"b":-3.2,"o":2.1},{"x":584,"b":3.4,"o":-1.6},{"x":584.5,"b":-3.85,"o":2.4},
{"x":585,"b":3.8,"o":-1.8},{"x":585.5,"b":-3.3,"o":2.2},{"x":586,"b":3.2,"o":-1.5},{"x":586.5,"b":-3.0,"o":2.0},{"x":587,"b":3.5,"o":-1.6},{"x":587.5,"b":-3.5,"o":2.6},{"x":588,"b":3.7,"o":-1.9},{"x":588.5,"b":-3.2,"o":2.3},{"x":589,"b":3.3,"o":-1.5},{"x":589.5,"b":-3.4,"o":2.1},
{"x":590,"b":3.6,"o":-1.6},{"x":590.5,"b":-3.1,"o":2.4},{"x":591,"b":3.4,"o":-1.7},{"x":591.5,"b":-3.6,"o":2.2},{"x":592,"b":3.8,"o":-1.5},{"x":592.5,"b":-3.3,"o":2.0},{"x":593,"b":3.2,"o":-1.6},{"x":593.5,"b":-3.0,"o":2.3},{"x":594,"b":3.5,"o":-1.8},{"x":594.5,"b":-3.5,"o":2.5},
{"x":595,"b":3.3,"o":-1.6},{"x":595.5,"b":-3.2,"o":2.2},{"x":596,"b":3.6,"o":-1.5},{"x":596.5,"b":-3.4,"o":2.1},{"x":597,"b":3.4,"o":-1.7},{"x":597.5,"b":-3.1,"o":2.4},{"x":598,"b":3.2,"o":-1.6},{"x":598.5,"b":-3.3,"o":2.2},{"x":599,"b":3.5,"o":-1.5},{"x":599.5,"b":-2.9,"o":2.3},
{"x":600,"b":3.4,"o":-1.4}
]},
"layer":[
 {"mark":{"type":"line","color":"#0072BD","strokeWidth":1.8},
  "encoding":{
   "x":{"field":"x","type":"quantitative","scale":{"domain":[0,600],"nice":false,"zero":false},
        "axis":{"orient":"bottom","title":null,"values":[0,100,200,300,400,500,600],"grid":true,"labelPadding":19}},
   "y":{"field":"b","type":"quantitative","scale":{"domain":[-6,6],"nice":false},
        "axis":{"orient":"left","title":null,"values":[-6,-4,-2,0,2,4,6],"grid":true}}}},
 {"mark":{"type":"line","color":"#D95319","strokeWidth":1.8},
  "encoding":{
   "x":{"field":"x","type":"quantitative",
        "axis":{"orient":"top","title":null,"values":[0,100,200,300,400,500,600],"grid":false,"labels":false}},
   "y":{"field":"o","type":"quantitative",
        "axis":{"orient":"right","title":null,"values":[-6,-4,-2,0,2,4,6],"grid":false,"labels":false}}}}
],
"resolve":{"axis":{"x":"independent","y":"independent"}}
}
